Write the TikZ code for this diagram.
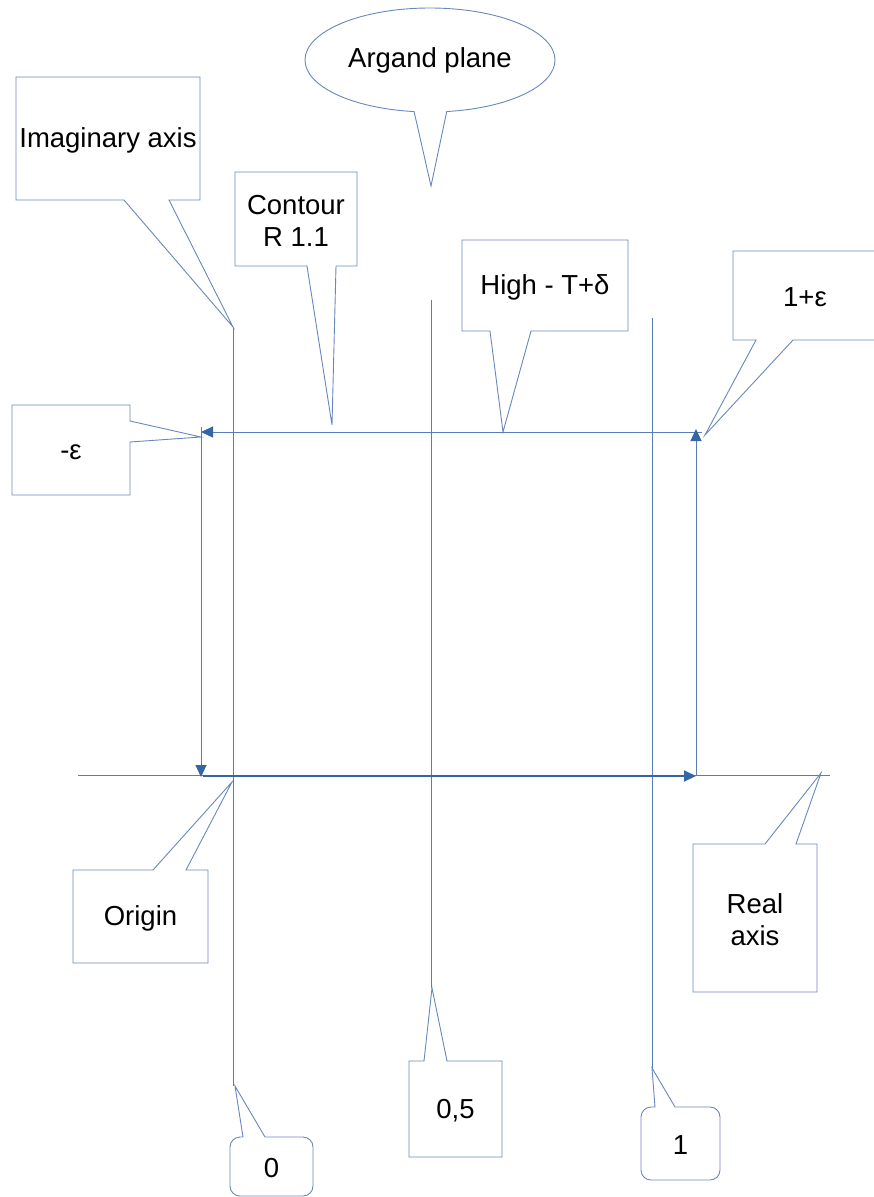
\documentclass[tikz,border=0pt]{standalone}
\usepackage{fontspec}
\setmainfont{Liberation Sans}
\usetikzlibrary{arrows.meta,shapes.callouts}

\definecolor{axisblue}{RGB}{88,124,182}
\definecolor{boxblue}{RGB}{104,136,188}
\definecolor{tipblue}{RGB}{52,101,164}

\tikzset{
  label/.style={inner sep=0pt, align=center, font=\fontsize{27.5}{32}\selectfont},
  boxline/.style={draw=boxblue, line width=0.9pt, line join=miter},
  bubble/.style={ellipse callout, boxline, inner sep=0pt,
    font=\fontsize{27.5}{32}\selectfont},
  axisline/.style={draw=axisblue, line width=1pt},
  pathline/.style={axisline, -{Triangle[length=12pt,width=11pt,color=tipblue]}}
}

\begin{document}
\begin{tikzpicture}[x=1pt,y=-1pt]
  \useasboundingbox (0,0) rectangle (873,1197);

  \coordinate (zerotop) at (233,327);
  \coordinate (zerobot) at (235,1086);
  \coordinate (halftop) at (431,300);
  \coordinate (halfbot) at (432,988);
  \coordinate (onetop)  at (652,318);
  \coordinate (onebot)  at (652,1068);
  \coordinate (realL)   at (78,775);
  \coordinate (realR)   at (830,775);

  \coordinate (cTL) at (201,432);
  \coordinate (cBL) at (201,776);
  \coordinate (cBR) at (696,776);
  \coordinate (cTR) at (696,432);

  \draw[axisline]
      (zerotop) -- (zerotop |- zerobot)
      (halftop) -- (halftop |- halfbot)
      (onetop) -- (onebot)
      (realL) -- (realR)
  ;
  \draw[axisline] (cTR) -- ++(6,0);
  \draw[pathline] (cTR) -- (cTL);
  \draw[pathline] ([yshift=5]cTL) -- ([yshift=-1]cBL);
  \draw[pathline, line width=1.8pt, draw=tipblue] ([xshift=2]cBL) -- (cBR);
  \draw[pathline] (cBR) -- ([yshift=3]cTR);

  \node[bubble, minimum width=250, minimum height=104, callout pointer width=50,
        callout absolute pointer={(431,186)}] (argand) at (430,60) {Argand plane};

  \node[label] (imag)    at (108,140)    {Imaginary axis};
  \node[label] (contour) at (296,221)    {Contour\\R 1.1};
  \node[label] (high)    at (545,287)    {High - T+δ};
  \node[label] (oneeps)  at (805,297.5)  {1+ε};
  \node[label] (meps)    at (71,452)     {-ε};
  \node[label] (origin)  at (140.5,918)  {Origin};
  \node[label] (real)    at (755,920)    {Real\\axis};
  \node[label] (zero)    at (271.5,1168) {0};
  \node[label] (half)    at (455.5,1111) {0,5};
  \node[label] (one)     at (680.5,1145) {1};

  \draw[boxline] (16,77) -- (200,77) -- (200,200) -- (169,200) -- (zerotop)
      -- (124,200) -- (16,200) -- cycle;
  \draw[boxline] (235,172) -- (357,172) -- (357,266) -- (336,266) -- (332,425)
      -- (307,266) -- (235,266) -- cycle;
  \draw[boxline] (462,240) -- (628,240) -- (628,331) -- (531,331) -- (503,432)
      -- (490,331) -- (462,331) -- cycle;
  \draw[boxline] (733,251) -- (877,251) -- (877,340) -- (793,340) -- (705,435)
      -- (756,340) -- (733,340) -- cycle;
  \draw[boxline] (12,405) -- (130,405) -- (130,421) -- (201,437) -- (130,442)
      -- (130,495) -- (12,495) -- cycle;
  \draw[boxline] (73,870) -- (153,870) -- (232,782) -- (186,870) -- (208,870)
      -- (208,963) -- (73,963) -- cycle;
  \draw[boxline] (693,844) -- (765,844) -- (821,773) -- (796,844) -- (817,844)
      -- (817,992) -- (693,992) -- cycle;
  \draw[boxline] (409,1061) -- (424,1061) -- (halfbot) -- (447,1061) -- (502,1061)
      -- (502,1157) -- (409,1157) -- cycle;
  \draw[boxline] (265,1137) [rounded corners=10] -- (313,1137) -- (313,1196)
      -- (230,1196) -- (230,1137) [sharp corners] -- (243,1137) -- (zerobot) -- cycle;
  \draw[boxline] (675,1107) [rounded corners=10] -- (720,1107) -- (720,1180)
      -- (641,1180) -- (641,1107) [sharp corners] -- (655,1107) -- (onebot) -- cycle;
\end{tikzpicture}
\end{document}
